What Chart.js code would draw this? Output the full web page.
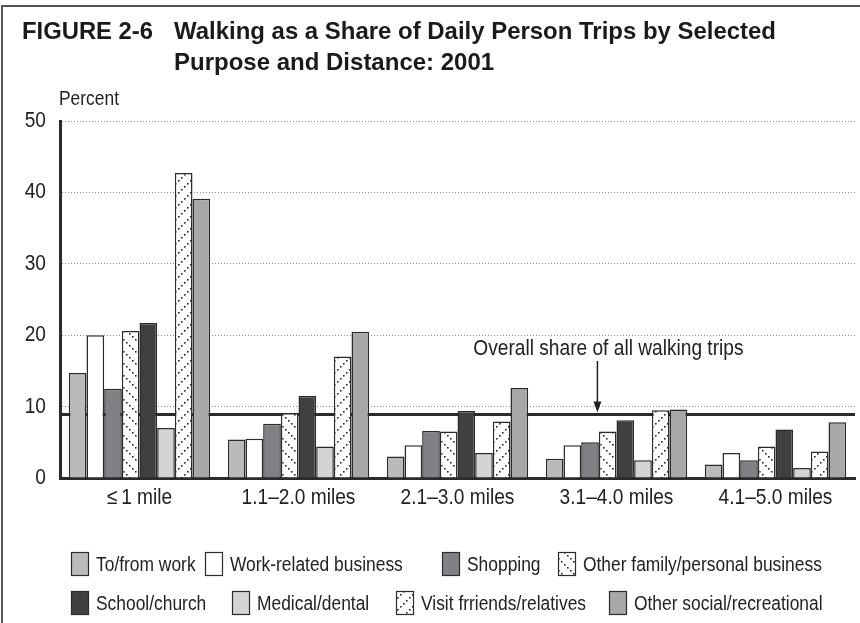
<!DOCTYPE html>
<html>
<head>
<meta charset="utf-8">
<script src="https://cdn.jsdelivr.net/npm/chart.js@4/dist/chart.umd.min.js"></script>
<style>
  html, body { margin: 0; padding: 0; background: #fff; }
  canvas { display: block; }
</style>
</head>
<body>
<canvas id="walkChart" width="860" height="623"></canvas>
<script>
// Walking as a share of daily person trips, by purpose and distance (2001)
var categories = ['≤\u20091 mile', '1.1–2.0 miles', '2.1–3.0 miles', '3.1–4.0 miles', '4.1–5.0 miles'];
var toFromWork   = [14.7, 5.4, 3.0, 2.7, 1.9];
var workRelated  = [20.0, 5.5, 4.6, 4.6, 3.5];
var shopping     = [12.5, 7.6, 6.6, 5.0, 2.5];
var otherFamily  = [20.6, 9.1, 6.5, 6.5, 4.4];
var schoolChurch = [21.7, 11.5, 9.4, 8.1, 6.8];
var medical      = [7.0, 4.4, 3.5, 2.5, 1.4];
var visitFriends = [42.7, 17.0, 7.9, 9.5, 3.7];
var otherSocial  = [39.1, 20.5, 12.6, 9.6, 7.8];
var overallShare = 8.9;
var yTicks = [0, 10, 20, 30, 40, 50];

var SANS = '"Liberation Sans", Arial, sans-serif';
var SQUEEZE = 0.87;   // fake a condensed face by squeezing Liberation Sans
var INK = '#2b2b2b';

// dotted diagonal hatch; dir 1 = "\" , dir -1 = "/"
function dottedHatch(dir) {
  var n = 12;
  var c = document.createElement('canvas');
  c.width = n; c.height = n;
  var g = c.getContext('2d');
  g.fillStyle = '#fff';
  g.fillRect(0, 0, n, n);
  g.fillStyle = '#2a2a2a';
  for (var i = 0; i < 4; i++) {
    var p = i * 3;
    var x = dir > 0 ? p : n - 2 - p;
    g.fillRect(x, p, 1.6, 1.6);
  }
  return g.createPattern(c, 'repeat');
}

// squeezed text helper
function narrowText(ctx, text, x, y, size, align) {
  ctx.save();
  ctx.translate(x, y);
  ctx.scale(SQUEEZE, 1);
  ctx.font = size + 'px ' + SANS;
  ctx.textAlign = align || 'left';
  ctx.textBaseline = 'middle';
  ctx.fillText(text, 0, 0);
  ctx.restore();
}

var series = [
  { label: 'To/from work', data: toFromWork, fill: '#b9babc' },
  { label: 'Work-related business', data: workRelated, fill: '#ffffff' },
  { label: 'Shopping', data: shopping, fill: '#808184' },
  { label: 'Other family/personal business', data: otherFamily, fill: dottedHatch(1) },
  { label: 'School/church', data: schoolChurch, fill: '#404040' },
  { label: 'Medical/dental', data: medical, fill: '#d3d4d5' },
  { label: 'Visit frriends/relatives', data: visitFriends, fill: dottedHatch(-1) },
  { label: 'Other social/recreational', data: otherSocial, fill: '#a7a8aa' }
];

// legend slots, two rows of four
var legendRows = [[0, 1, 2, 3], [4, 5, 6, 7]];
var legendX = [[71, 205, 442, 558], [71, 232, 396, 609]];
var legendY = [564, 603];

var overlayPlugin = {
  id: 'overlay',
  beforeDatasetsDraw: function(chart) {
    // heavy line for the overall walking share, behind the bars
    var ctx = chart.ctx, area = chart.chartArea;
    var y = chart.scales.y.getPixelForValue(overallShare);
    ctx.save();
    ctx.strokeStyle = INK;
    ctx.lineWidth = 3;
    ctx.beginPath();
    ctx.moveTo(area.left, y);
    ctx.lineTo(area.right, y);
    ctx.stroke();
    ctx.restore();
  },
  afterDraw: function(chart) {
    var ctx = chart.ctx, area = chart.chartArea;
    var xs = chart.scales.x, ys = chart.scales.y;
    ctx.save();
    // frame
    ctx.strokeStyle = '#555';
    ctx.lineWidth = 2;
    ctx.beginPath();
    ctx.moveTo(2, 623);
    ctx.lineTo(2, 6);
    ctx.lineTo(860, 6);
    ctx.stroke();

    // title
    ctx.fillStyle = '#1a1a1a';
    ctx.textBaseline = 'alphabetic';
    ctx.textAlign = 'left';
    ctx.font = 'bold 24px ' + SANS;
    ctx.fillText('FIGURE 2-6', 22, 39, 131);
    ctx.fillText('Walking as a Share of Daily Person Trips by Selected', 174, 39, 602);
    ctx.fillText('Purpose and Distance: 2001', 174, 70, 334);

    ctx.fillStyle = '#222';
    // tick labels, placed by the scales
    ys.ticks.forEach(function(t) {
      narrowText(ctx, String(t.value), area.left - 14, ys.getPixelForValue(t.value), 22, 'right');
    });
    chart.data.labels.forEach(function(lab, i) {
      narrowText(ctx, lab, xs.getPixelForTick(i), 498, 22, 'center');
    });

    // axis title
    narrowText(ctx, 'Percent', 59, 99, 20, 'left');

    // annotation with arrow
    var yLine = ys.getPixelForValue(overallShare);
    var ax = area.left + 0.676 * (area.right - area.left);
    narrowText(ctx, 'Overall share of all walking trips', ax + 11, 349, 22, 'center');
    ctx.strokeStyle = '#222';
    ctx.lineWidth = 1.5;
    ctx.beginPath();
    ctx.moveTo(ax, 361);
    ctx.lineTo(ax, yLine - 8);
    ctx.stroke();
    ctx.beginPath();
    ctx.moveTo(ax - 4, yLine - 13);
    ctx.lineTo(ax + 4, yLine - 13);
    ctx.lineTo(ax, yLine - 2);
    ctx.closePath();
    ctx.fill();

    // legend
    legendRows.forEach(function(row, r) {
      row.forEach(function(idx, k) {
        var ds = chart.data.datasets[idx];
        var bx = legendX[r][k], by = legendY[r];
        ctx.fillStyle = ds.backgroundColor;
        ctx.fillRect(bx, by - 12, 18, 24);
        ctx.strokeStyle = INK;
        ctx.lineWidth = 1.2;
        ctx.strokeRect(bx + 0.5, by - 11.5, 17, 23);
        ctx.fillStyle = '#222';
        narrowText(ctx, ds.label, bx + 25, by + 1, 20, 'left');
      });
    });
    ctx.restore();
  }
};

new Chart(document.getElementById('walkChart').getContext('2d'), {
  type: 'bar',
  plugins: [overlayPlugin],
  data: {
    labels: categories,
    datasets: series.map(function(s) {
      return {
        label: s.label,
        data: s.data,
        backgroundColor: s.fill,
        borderColor: INK,
        borderWidth: 1.5,
        categoryPercentage: 8 / 9,
        barPercentage: 1.0
      };
    })
  },
  options: {
    responsive: false,
    devicePixelRatio: 1,
    animation: false,
    layout: { padding: { top: 121, right: 5, left: 0, bottom: 0 } },
    scales: {
      x: {
        grid: { display: false, drawTicks: false },
        border: { display: true, color: INK, width: 3 },
        ticks: { display: false },
        afterFit: function(scale) { scale.height = 145; }
      },
      y: {
        min: 0,
        max: 50,
        afterBuildTicks: function(scale) {
          scale.ticks = yTicks.map(function(v) { return { value: v }; });
        },
        grid: { color: '#8a8a8a', lineWidth: 1, drawTicks: false },
        border: { display: true, color: INK, width: 3, dash: [1, 2] },
        ticks: { display: false },
        afterFit: function(scale) { scale.width = 60; }
      }
    },
    plugins: {
      legend: { display: false },
      tooltip: { enabled: false },
      title: { display: false }
    }
  }
});
</script>
</body>
</html>
